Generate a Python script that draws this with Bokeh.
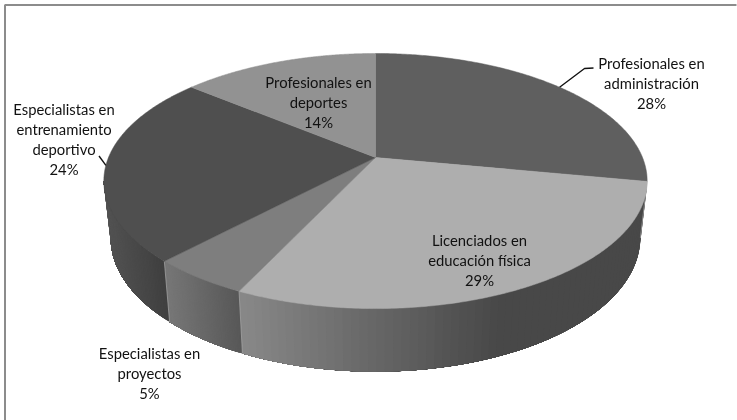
import math
from bokeh.plotting import figure
from bokeh.embed import file_html
from bokeh.resources import INLINE
from bokeh.models import Range1d
from bokeh.core.properties import value

categories = ["Profesionales en administración", "Licenciados en educación física",
              "Especialistas en proyectos", "Especialistas en entrenamiento deportivo",
              "Profesionales en deportes"]
shares = [28, 29, 5, 24, 14]
percent_labels = ["28%", "29%", "5%", "24%", "14%"]
top_colors = ["#5f5f5f", "#aeaeae", "#7e7e7e", "#4f4f4f", "#929292"]
# horizontal wall gradient of each slice: (page x, grey) at its two stops
wall_stops = [None, ((237, 138), (500, 72)), ((170, 118), (239, 88)), ((104, 84), (170, 62)), None]
label_lines = [
    ["Profesionales en", "administración", "28%"],
    ["Licenciados en", "educación física", "29%"],
    ["Especialistas en", "proyectos", "5%"],
    ["Especialistas en", "entrenamiento", "deportivo", "24%"],
    ["Profesionales en", "deportes", "14%"],
]
label_anchor = [(651, 62), (479, 239), (149, 352), (63.5, 108), (318, 81)]
LINE_H = 20

# perspective disc geometry (page pixels)
CX, CY, A, B, K = 375.0, 157.0, 267.0, 123.2, 0.1845
SX, SY, Y0 = 0.975, 1.05, 212.5


def top_pt(theta):
    u, v = math.sin(theta), math.cos(theta)
    d = 1 + K * v
    return CX + A * u / d, CY - B * v / d


def bot_pt(theta):
    x, y = top_pt(theta)
    return CX + SX * (x - CX), Y0 + SY * (y - CY)


total = sum(shares)
edges = [0.0]
for s in shares:
    edges.append(edges[-1] + s / total * 2 * math.pi)

# silhouette limits of the visible wall
th_right = math.pi / 2 + math.asin(K)
th_left = 3 * math.pi / 2 - math.asin(K)

p = figure(width=737, height=420, output_backend="svg", toolbar_location=None,
           x_range=Range1d(0, 737), y_range=Range1d(420, 0), min_border=0,
           outline_line_color=None, x_axis_location=None, y_axis_location=None)
p.grid.visible = False
p.styles = {"position": "fixed", "left": "0px", "top": "0px"}

# frame
p.line([4.5, 4.5, 736], [420, 4.5, 4.5], line_color="#8c8c8c", line_width=2)


def shade(i, x):
    (x0, g0), (x1, g1) = wall_stops[i]
    q = max(0.0, min(1.0, (x - x0) / (x1 - x0)))
    return int(round(g0 + (g1 - g0) * q))


# walls: each strip runs on to the slice's far end and the next one paints over it
for i in range(len(shares)):
    a0, a1 = max(edges[i], th_right), min(edges[i + 1], th_left)
    if a1 <= a0 or wall_stops[i] is None:
        continue
    n = 70
    xs, ys, cols = [], [], []
    for j in range(n):
        t0 = a0 + (a1 - a0) * j / n
        ts = [t0 + (a1 - t0) * m / 24 for m in range(25)]
        top = [top_pt(t) for t in ts]
        bot = [bot_pt(t) for t in reversed(ts)]
        g = shade(i, (top[0][0] + bot[-1][0]) / 2)
        xs.append([q[0] for q in top + bot])
        ys.append([q[1] for q in top + bot])
        cols.append("#%02x%02x%02x" % (g, g, g))
    p.patches(xs, ys, fill_color=cols, line_color=None)
    if th_right < edges[i] < th_left:
        a, d = top_pt(edges[i]), bot_pt(edges[i])
        p.line([a[0], d[0]], [a[1], d[1]], line_color="#a8a8a8", line_width=1, line_alpha=0.7)

# top face
for i in range(len(shares)):
    n = 160
    xs, ys = [CX], [CY]
    for j in range(n + 1):
        x, y = top_pt(edges[i] + (edges[i + 1] - edges[i]) * j / n)
        xs.append(x)
        ys.append(y)
    p.patch(xs, ys, fill_color=top_colors[i], line_color=top_colors[i], line_width=0.5)

# leader lines start at the middle of their slice
lx0, ly0 = top_pt((edges[0] + edges[1]) / 2)
p.line([lx0, 584, 593], [ly0, 68, 67.5], line_color="#111111", line_width=1.4)
lx1, ly1 = top_pt((edges[3] + edges[4]) / 2)
p.line([98.5, lx1], [155.5, ly1], line_color="#111111", line_width=1.4)

# labels
tx, ty, tt = [], [], []
for (ax, ay), lines in zip(label_anchor, label_lines):
    for k, t in enumerate(lines):
        tx.append(ax)
        ty.append(ay + k * LINE_H)
        tt.append(t)
p.text(tx, ty, text=tt, text_align="center", text_baseline="middle",
       text_color="#111111", text_font_size="14.8px", text_font=value("Lato"))

open("out.html", "w").write(file_html(p, INLINE))
